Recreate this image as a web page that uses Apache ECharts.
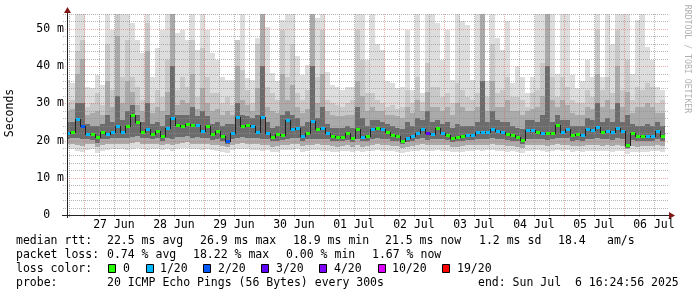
<!DOCTYPE html>
<html><head><meta charset="utf-8">
<script src="https://cdn.jsdelivr.net/npm/echarts@6/dist/echarts.min.js"></script>
<style>html,body{margin:0;padding:0;background:#fff}#c{width:697px;height:297px}</style>
</head><body><div id="c"></div>
<script>
// ---------- data (values in ms, 2-hour columns) ----------
const dayLabels = ['27 Jun','28 Jun','29 Jun','30 Jun','01 Jul','02 Jul','03 Jul','04 Jul','05 Jul','06 Jul'];
const labelHours = [36,60,84,108,132,156,180,204,228,252];
const yTickValues = [0,10,20,30,40,50];
const startHour = 16.42;   // 26 Jun 16:25
const stepHours = 2;

const medianRtt = [
 22.1,22.2,25.8,23.8,21.8,21.7,20.9,22.3,21.7,22.2,
 24.0,22.2,23.8,26.8,25.0,22.3,23.0,21.8,22.5,21.2,
 23.5,26.0,24.3,24.0,24.5,24.2,24.2,22.7,23.8,21.7,
 22.5,21.2,20.0,22.1,26.2,24.0,24.1,23.8,22.4,26.4,
 22.0,20.9,21.8,21.5,25.5,23.0,23.5,21.3,22.0,25.2,
 23.0,23.4,22.0,21.2,21.0,21.0,22.0,20.8,23.0,21.0,
 21.2,23.0,23.4,23.0,22.3,21.4,21.3,19.8,20.7,21.2,
 22.1,23.2,22.0,21.8,23.3,22.0,21.6,20.8,20.9,21.3,
 21.5,21.5,22.2,22.2,22.2,23.2,22.6,22.2,21.8,21.4,
 20.9,20.1,22.8,22.8,22.2,22.0,22.1,22.1,24.2,22.4,
 23.0,21.5,21.8,21.4,23.2,22.8,23.6,22.3,22.7,22.3,
 23.5,22.5,18.9,22.0,21.3,21.1,21.3,21.2,22.7,21.3];
const lossCount = [
 1,0,1,2,1,0,0,0,1,1,
 1,1,0,0,0,0,1,0,0,0,
 1,1,0,0,0,0,1,1,0,0,
 0,0,2,1,1,0,0,1,1,1,
 1,0,0,0,1,1,1,1,0,1,
 0,1,1,0,0,0,0,0,0,1,
 0,1,0,1,0,0,0,0,1,1,
 1,1,3,1,0,1,0,0,0,0,
 1,1,1,1,1,1,1,1,0,0,
 0,0,1,1,0,1,0,0,0,1,
 1,0,0,1,1,1,1,0,1,1,
 1,1,0,0,0,0,1,1,1,0];
const pingMax = [
 36.2,35.5,54,54,34.5,34,37.6,35,54,49.7,
 54,54,54,51.5,47,43.5,54,37,44.8,49.7,
 54,54,48.8,49.7,47,54,44.3,54,49.7,43.4,
 41.7,37.2,36.3,36.3,47,54,36.8,36.3,47.5,54,
 50.6,38.1,35.9,52.4,54,54,42.6,37.6,40.3,54,
 52.9,54,38.5,35,34.5,33.6,34.5,34.5,54,54,
 41.7,54,46,44.3,35.9,35.4,34,34.5,49.7,33.6,
 54,32.7,54,54,51.5,41.7,49.7,36.3,54,52,
 51.1,36.3,54,54,35.9,54,47.5,44.3,52,35.4,
 40,37.2,32.7,37.2,54,54,54,54,38,54,
 54,37.6,34,35.9,41.7,37.2,54,37.2,54,46,
 54,54,54,38,52.4,54,45.2,41.7,34.5,33.6];
const pingHi2 = [
 30,31,44,47,29,30,32.7,29.5,46,33.6,
 54,37,47,37,34.5,31,51.5,30,33.6,31.8,
 41.7,54,33.6,37,34.5,47,31.8,45,37,32.7,
 32.7,30,31.8,29.5,47,39,33.6,30,46,54,
 34.5,32.7,31,49.7,37,46,32.7,31,33.6,54,
 37,49.7,31,30,29.5,29,30,31,49.7,41.7,
 32.7,32.7,31,30,29,29.5,28.6,29,33.6,30,
 37,30.4,40.8,34.5,34.5,31.8,32.7,30,35.4,33.6,
 31.8,31,32.7,54,31.8,46,32.7,33.6,37,31.8,
 31.8,31,29,32.7,33.6,40.8,54,37,31.8,37,
 34.5,31,30,30,33.6,31.8,49.7,33.6,37,32.7,
 49.7,33.6,41.7,31,34.5,33.6,35.4,34.5,30,31];
const pingHi3 = [
 28,28.5,38,42,27,27.5,28,27,36,29,
 48,30,36,33,29.5,28,44,27.5,29,28,
 33,54,29.5,31,30,38,28.5,34,30,28,
 28.5,27,28,27,40,31,29.5,28,34,54,
 29,28,27.5,38,31,35,29,27.5,28.5,54,
 30,38,28,27,26.5,26.5,27,27,36,32,
 28,29,28,28,27,27,26.5,26,29,27.5,
 31,28,33,29,29,28,29,27,30,29,
 28,28,29,54,28,36,29,29,31,28,
 28,27,28,28.5,29,32,54,31,29,31,
 29.5,27.5,27,27,29,28.5,38,29,31,28.5,
 40,29,33,27.5,29,29,30,29,27.5,27.5];
const pingHi4 = [
 25,25,30,30,24.5,24,24,24.5,27,25,
 32,25.5,28,29.5,27,25,30,24.5,25,24,
 27,40,27,27,27,29,26.5,28,26.5,24.5,
 25,24,24.5,24.5,30,27,26.5,26,27,40,
 25,23.5,24,27,28,27,26,24,25,40,
 26,29,24.5,23.5,23.5,23.5,24,23.5,29,26,
 24,25.5,25.5,25,24.5,24,23.5,23,25,24,
 26,25.5,28,25,25.5,24.5,25,23.5,24.5,24,
 24,24,25,36,25,28,25.5,25,25,24,
 23.5,23,25.5,25.5,25,27,40,25,27,25.5,
 25.5,24,24,24,26,25.5,30,25,26,25,
 30,25,27,24.5,24,24,24.5,24,25,24];
const pingMin = [
 17.8,17.6,17.2,16.8,17.5,17.6,16.7,17.2,17.5,17.7,
 17.6,17.8,17.5,17.8,18,17.6,17.4,17.6,17.8,17.5,
 17.8,17.2,17.7,17.9,18,17.6,17.8,17.5,17.6,17.4,
 17.2,17.0,16.6,17.4,17.6,17.8,17.6,17.5,17.5,17.2,
 17.4,16.8,17.0,17.4,17.4,17.5,17.7,17.0,17.3,17.4,
 17.5,17.3,17.2,17.0,16.9,17.1,17.2,16.8,17.3,16.8,
 17.1,17.3,17.5,17.2,17.3,17.1,17.0,16.6,16.8,17.1,
 17.3,17.5,17.2,17.2,17.4,17.2,17.2,16.9,16.9,17.0,
 17.2,17.2,17.4,17.3,17.4,17.5,17.3,17.2,17.0,17.1,
 16.9,16.6,17.2,17.3,17.4,17.2,17.0,17.2,17.5,17.3,
 17.4,17.0,17.1,17.0,17.3,17.2,17.2,17.1,17.2,17.0,
 17.3,17.1,16.5,17.0,16.9,17.0,17.0,17.1,17.3,17.0];
const pingLo2 = [
 19.2,19.0,18.8,18.5,19.0,19.0,18.2,18.8,19.0,19.2,
 19.0,19.2,19.0,19.3,19.5,19.0,19.0,19.0,19.2,18.9,
 19.2,18.8,19.2,19.3,19.5,19.0,19.2,19.0,19.1,18.9,
 18.8,18.6,18.2,18.9,19.0,19.3,19.1,19.0,19.0,18.8,
 18.9,18.4,18.6,18.9,18.9,19.0,19.2,18.6,18.8,18.9,
 19.0,18.8,18.7,18.5,18.4,18.6,18.7,18.3,18.8,18.4,
 18.6,18.8,19.0,18.7,18.8,18.6,18.5,18.0,18.3,18.6,
 18.8,19.0,18.7,18.7,18.9,18.7,18.7,18.4,18.4,18.5,
 18.7,18.7,18.9,18.8,18.9,19.0,18.8,18.7,18.5,18.6,
 18.4,18.0,18.7,18.8,18.9,18.7,18.5,18.7,19.0,18.8,
 18.9,18.5,18.6,18.5,18.8,18.7,18.7,18.6,18.7,18.5,
 18.8,18.6,17.8,18.5,18.4,18.5,18.5,18.6,18.8,18.5];
const pingLo3 = [
 20.5,20.6,20.8,20.3,20.4,20.2,19.4,20.4,20.4,20.6,
 20.8,20.7,20.8,21.0,21.2,20.7,20.8,20.5,20.8,20.0,
 20.8,20.5,21.0,21.0,21.2,20.8,21.0,20.6,20.8,20.2,
 20.4,19.8,19.0,20.4,20.6,21.0,20.8,20.8,20.6,20.5,
 20.4,19.8,20.0,20.2,20.4,20.6,20.8,20.0,20.3,20.5,
 20.5,20.4,20.3,20.0,19.8,19.9,20.2,19.6,20.4,19.8,
 20.0,20.4,20.6,20.4,20.3,20.0,19.9,19.0,19.6,20.0,
 20.4,20.6,20.2,20.3,20.5,20.3,20.1,19.7,19.8,20.0,
 20.2,20.2,20.5,20.4,20.5,20.8,20.5,20.4,20.2,20.0,
 19.8,19.2,20.4,20.5,20.5,20.3,20.2,20.4,20.8,20.6,
 20.6,20.0,20.2,20.0,20.5,20.4,20.6,20.3,20.5,20.2,
 20.6,20.3,18.0,20.2,19.9,19.8,20.0,20.0,20.5,20.0];

const lossLevels = [0,1,2,3,4,10,19];
const lossLabels = ['0','1/20','2/20','3/20','4/20','10/20','19/20'];
const lossColors = ['#26ff00','#00b8ff','#0059ff','#5e00ff','#7e00ff','#dd00ff','#ff0000'];

const row1Texts = ['median rtt:','22.5 ms avg','26.9 ms max','18.9 ms min','21.5 ms now','1.2 ms sd','18.4','am/s'];
const row2Texts = ['packet loss:','0.74 % avg','18.22 % max','0.00 % min','1.67 % now'];
const row3Title = 'loss color:';
const row4Texts = ['probe:','20 ICMP Echo Pings (56 Bytes) every 300s','end: Sun Jul  6 16:24:56 2025'];

// ---------- layout ----------
const GL = 67, GT = 14, GW = 598, GH = 201;
const GR = GL + GW, GB = GT + GH;
const axisStart = 256.42 - GW / 2.5, axisEnd = 256.42;
const FONT = '"DejaVu Sans Mono", monospace';
const FS = 11.5;
const row1X = [16,107,200,293,385,479,558,607];
const row2X = [16,107,193,286,372];
const row4X = [16,107,478];
const sqX = [108,146,203,261,319,378,442];
const sqTextX = [123,160,218,276,334,392,457];
const rowY = [241.5,255.4,269.3,283.2];

function lossColor(n){ let c = lossColors[0]; for (let k=0;k<lossLevels.length;k++) if (n>=lossLevels[k]) c = lossColors[k]; return c; }

const smokeRows = medianRtt.map((m,i)=>[startHour+i*stepHours, pingMin[i], pingMax[i], pingLo2[i], pingHi2[i], pingHi3[i], pingLo3[i], pingHi4[i]]);
const medRows = medianRtt.map((m,i)=>[startHour+i*stepHours, m, i>0?medianRtt[i-1]:m, lossCount[i]]);
const vGrid = []; for (let h=6; h<axisEnd; h+=6) if (h>axisStart) vGrid.push([h,0]);
const hGrid = []; for (let v=2; v<=54; v+=2) hGrid.push([axisStart, v]);

const GRID_C = 'rgba(143,143,143,0.65)', MGRID_C = 'rgba(222,79,79,0.45)';

const chart = echarts.init(document.getElementById('c'), null, {renderer:'canvas'});
const graphics = [];
// axes
graphics.push({type:'line', z:50, shape:{x1:GL-5,y1:GB+0.5,x2:GR+5,y2:GB+0.5}, style:{stroke:'#222',lineWidth:1}});
graphics.push({type:'line', z:50, shape:{x1:GL+0.5,y1:GB+3,x2:GL+0.5,y2:GT-2}, style:{stroke:'#222',lineWidth:1}});
graphics.push({type:'polygon', z:51, shape:{points:[[GL-3,GT-1],[GL+4,GT-1],[GL+0.5,GT-7]]}, style:{fill:'#801818'}});
graphics.push({type:'polygon', z:51, shape:{points:[[GR+4,GB-3],[GR+4,GB+4],[GR+10,GB+0.5]]}, style:{fill:'#801818'}});
// titles
graphics.push({type:'text', x:10, y:113, rotation:Math.PI/2, style:{text:'Seconds', font:FS+'px '+FONT, fill:'#000', align:'center', verticalAlign:'middle'}});
graphics.push({type:'text', x:687, y:59, rotation:-Math.PI/2, style:{text:'RRDTOOL / TOBI OETIKER', font:'8.2px '+FONT, fill:'#b0b0b0', align:'center', verticalAlign:'middle'}});
function txt(x,y,t){ graphics.push({type:'text', x:x, y:y, style:{text:t, font:FS+'px '+FONT, fill:'#000', align:'left', verticalAlign:'middle'}}); }
row1Texts.forEach((t,k)=>txt(row1X[k],rowY[0],t));
row2Texts.forEach((t,k)=>txt(row2X[k],rowY[1],t));
txt(16,rowY[2],row3Title);
lossLabels.forEach((t,k)=>{
  graphics.push({type:'rect', shape:{x:sqX[k]+0.5,y:264.5,width:7,height:8}, style:{fill:lossColors[k], stroke:'#000', lineWidth:1}});
  txt(sqTextX[k],rowY[2],t);
});
row4Texts.forEach((t,k)=>txt(row4X[k],rowY[3],t));

chart.setOption({
  animation:false,
  backgroundColor:'#fff',
  textStyle:{fontFamily:FONT},
  grid:{left:GL, top:GT, width:GW, height:GH, containLabel:false},
  xAxis:{type:'value', min:axisStart, max:axisEnd,
    axisLine:{show:false}, axisTick:{show:false}, splitLine:{show:false},
    axisLabel:{customValues:labelHours, margin:4, color:'#000', fontSize:FS, fontFamily:FONT,
      formatter:(v)=>dayLabels[labelHours.indexOf(Math.round(v))] || ''}},
  yAxis:{type:'value', min:0, max:54,
    axisLine:{show:false}, axisTick:{show:false}, splitLine:{show:false},
    axisLabel:{customValues:yTickValues, margin:3, color:'#000', fontSize:FS, fontFamily:FONT,
      formatter:(v)=> v===0 ? '0  ' : v+' m'}},
  graphic: graphics,
  series:[
    {type:'custom', z:1, clip:true, silent:true, data:smokeRows, encode:{x:0,y:1},
     renderItem:function(p,api){
       const t = api.value(0);
       const xa = Math.round(api.coord([t,0])[0]);
       const xb = Math.round(api.coord([t+stepHours,0])[0]);
       const band=(lo,hi,fill)=>{const ya=Math.round(api.coord([t,hi])[1]); const yb=Math.round(api.coord([t,lo])[1]);
         return {type:'rect', shape:{x:xa,y:ya,width:xb-xa,height:yb-ya}, style:{fill:fill}};};
       return {type:'group', children:[
         band(api.value(1),api.value(2),'#dddddd'),
         band(api.value(3),api.value(4),'#c8c8c8'),
         band(api.value(3),api.value(5),'#aaaaaa'),
         band(api.value(6),api.value(7),'#6c6c6c')]};
     }},
    {type:'custom', z:2, silent:true, data:vGrid, encode:{x:0,y:1},
     renderItem:function(p,api){
       const h = api.value(0);
       const x = Math.round(api.coord([h,0])[0]) + 0.5;
       return {type:'line', shape:{x1:x,y1:GT,x2:x,y2:GB+3}, style:{stroke:(h%24===0)?MGRID_C:GRID_C, lineWidth:1, lineDash:[1,1]}};
     }},
    {type:'custom', z:2, silent:true, data:hGrid, encode:{x:0,y:1},
     renderItem:function(p,api){
       const v = api.value(1);
       const y = Math.round(api.coord([axisStart,v])[1]) + 0.5;
       return {type:'line', shape:{x1:GL-4,y1:y,x2:GR+3,y2:y}, style:{stroke:(v%10===0)?MGRID_C:GRID_C, lineWidth:1, lineDash:[1,1]}};
     }},
    {type:'custom', z:3, clip:true, silent:true, data:medRows, encode:{x:0,y:1},
     renderItem:function(p,api){
       const t = api.value(0);
       const xa = Math.round(api.coord([t,0])[0]);
       const y1 = Math.round(api.coord([t,api.value(1)])[1]);
       const y0 = Math.round(api.coord([t,api.value(2)])[1]);
       return {type:'rect', shape:{x:xa,y:Math.min(y0,y1),width:1,height:Math.abs(y1-y0)+1}, style:{fill:'#202020'}};
     }},
    {type:'custom', z:4, clip:true, silent:true, data:medRows, encode:{x:0,y:1},
     renderItem:function(p,api){
       const t = api.value(0);
       const xa = Math.round(api.coord([t,0])[0]);
       const xb = Math.round(api.coord([t+stepHours,0])[0]);
       const y = Math.round(api.coord([t,api.value(1)])[1]);
       return {type:'rect', shape:{x:xa+1,y:y-1,width:xb-xa-1,height:3}, style:{fill:lossColor(api.value(3))}};
     }}
  ]
});
</script></body></html>
